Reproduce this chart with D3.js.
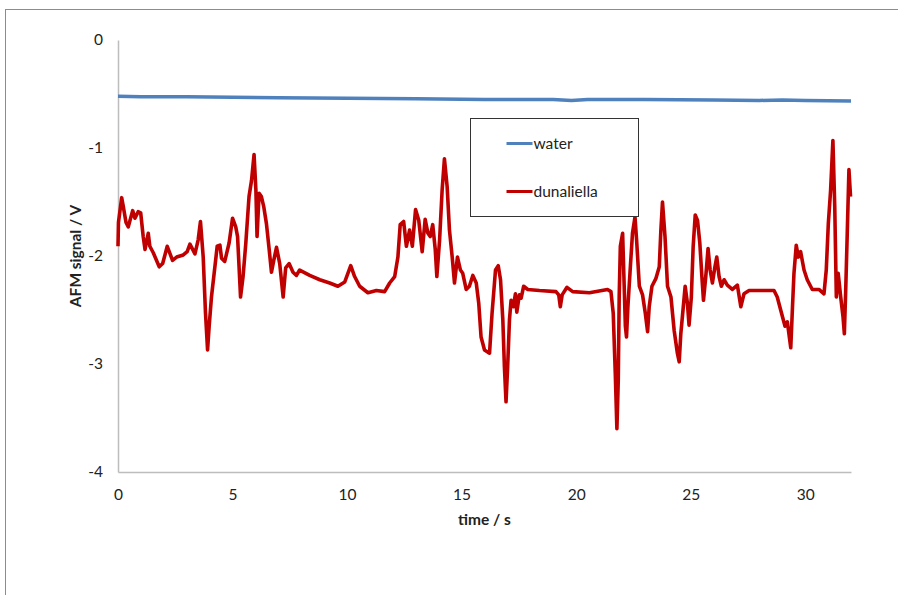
<!DOCTYPE html>
<html>
<head>
<meta charset="utf-8">
<script src="https://cdn.jsdelivr.net/npm/d3@7"></script>
<style>
  body { margin: 0; background: #fff; }
  svg text { font-family: Lato, "Open Sans", sans-serif; fill: #222; }
  .axis path { stroke: #bdbdbd; stroke-width: 1.5; }
  .axis text { font-size: 15.5px; }
</style>
</head>
<body>
<div id="chart"></div>
<script>
// series names
const seriesNames = ['water', 'dunaliella'];

// axis ticks
const xTicks = [0, 5, 10, 15, 20, 25, 30];
const yTicks = [0, -1, -2, -3, -4];

// water: time (s) / signal (V)
const waterT = [0, 1, 3, 5, 7, 10, 13, 16, 19, 19.8, 20.5, 23, 26, 28, 29, 30, 32];
const waterV = [-0.52, -0.525, -0.525, -0.53, -0.535, -0.54, -0.545, -0.55, -0.55, -0.56, -0.55, -0.55, -0.555, -0.56, -0.555, -0.56, -0.565];

// dunaliella: time (s) / signal (V)
const dunaT = [0, 0.02, 0.16, 0.23, 0.35, 0.45, 0.64, 0.74, 0.88, 0.99, 1.10, 1.18, 1.32, 1.39, 1.54, 1.80, 1.95, 2.15, 2.38, 2.56,
  2.85, 3.02, 3.14, 3.36, 3.50, 3.60, 3.72, 3.82, 3.91, 3.98, 4.08, 4.23, 4.33, 4.45, 4.52, 4.66, 4.85, 5.00, 5.14, 5.22,
  5.35, 5.46, 5.58, 5.72, 5.83, 5.94, 6.02, 6.07, 6.16, 6.26, 6.36, 6.48, 6.60, 6.70, 6.80, 6.92, 7.06, 7.21, 7.32, 7.47,
  7.64, 7.79, 7.93, 8.37, 8.81, 9.24, 9.60, 9.90, 10.16, 10.33, 10.55, 10.91, 11.28, 11.64, 11.86, 12.08, 12.22, 12.32, 12.47, 12.59,
  12.73, 12.85, 12.99, 13.13, 13.28, 13.41, 13.53, 13.63, 13.74, 13.85, 13.92, 14.04, 14.15, 14.25, 14.37, 14.47, 14.59, 14.69, 14.82, 14.95,
  15.05, 15.20, 15.34, 15.49, 15.64, 15.75, 15.85, 16.00, 16.14, 16.22, 16.33, 16.48, 16.60, 16.70, 16.80, 16.87, 16.94, 17.01, 17.09, 17.16,
  17.26, 17.35, 17.41, 17.52, 17.60, 17.71, 17.89, 18.40, 19.12, 19.24, 19.31, 19.39, 19.60, 19.85, 20.58, 21.37, 21.52, 21.62, 21.71, 21.78,
  21.84, 21.88, 21.93, 22.03, 22.09, 22.15, 22.20, 22.26, 22.35, 22.46, 22.57, 22.64, 22.76, 22.90, 23.02, 23.12, 23.19, 23.31, 23.48, 23.63,
  23.70, 23.77, 23.88, 23.99, 24.14, 24.28, 24.42, 24.50, 24.57, 24.64, 24.76, 24.86, 24.93, 25.03, 25.11, 25.20, 25.30, 25.40, 25.49, 25.56,
  25.66, 25.76, 25.85, 25.95, 26.06, 26.14, 26.24, 26.34, 26.46, 26.60, 26.82, 27.04, 27.19, 27.33, 27.55, 28.64, 28.78, 28.93, 29.12, 29.22,
  29.37, 29.44, 29.51, 29.61, 29.70, 29.80, 29.95, 30.09, 30.31, 30.60, 30.82, 30.92, 31.01, 31.11, 31.21, 31.29, 31.36, 31.44, 31.55, 31.65,
  31.71, 31.77, 31.84, 31.91, 31.98];
const dunaV = [-1.91, -1.69, -1.46, -1.54, -1.69, -1.73, -1.58, -1.65, -1.59, -1.60, -1.82, -1.94, -1.79, -1.91, -1.97, -2.10, -2.07, -1.91, -2.04, -2.01,
  -1.99, -1.96, -1.89, -1.98, -1.85, -1.68, -2.01, -2.53, -2.87, -2.65, -2.38, -2.10, -1.91, -1.90, -2.02, -2.05, -1.88, -1.65, -1.73, -1.82,
  -2.38, -2.19, -1.88, -1.45, -1.30, -1.06, -1.39, -1.82, -1.42, -1.45, -1.54, -1.70, -1.94, -2.15, -2.04, -1.92, -2.07, -2.38, -2.11, -2.07,
  -2.15, -2.18, -2.13, -2.18, -2.22, -2.25, -2.28, -2.24, -2.09, -2.19, -2.28, -2.34, -2.32, -2.33, -2.25, -2.19, -2.01, -1.71, -1.68, -1.91,
  -1.76, -1.91, -1.57, -1.67, -1.96, -1.66, -1.79, -1.82, -1.71, -1.94, -2.19, -1.85, -1.39, -1.10, -1.36, -1.76, -2.01, -2.25, -2.01, -2.13,
  -2.16, -2.31, -2.28, -2.18, -2.25, -2.44, -2.75, -2.87, -2.89, -2.90, -2.53, -2.13, -2.09, -2.22, -2.59, -3.03, -3.35, -3.03, -2.59, -2.41,
  -2.47, -2.35, -2.52, -2.36, -2.39, -2.28, -2.31, -2.32, -2.33, -2.36, -2.47, -2.36, -2.29, -2.33, -2.34, -2.31, -2.33, -2.53, -3.09, -3.60,
  -3.15, -2.38, -1.91, -1.79, -2.22, -2.65, -2.75, -2.47, -2.16, -1.79, -1.64, -1.85, -2.28, -2.36, -2.53, -2.70, -2.47, -2.28, -2.21, -2.10,
  -1.76, -1.50, -1.82, -2.28, -2.38, -2.69, -2.90, -2.98, -2.72, -2.56, -2.28, -2.44, -2.64, -2.38, -1.91, -1.62, -1.67, -1.88, -2.19, -2.41,
  -2.19, -1.93, -2.13, -2.25, -2.10, -2.01, -2.19, -2.28, -2.22, -2.27, -2.31, -2.27, -2.47, -2.35, -2.32, -2.32, -2.38, -2.50, -2.65, -2.61,
  -2.85, -2.50, -2.16, -1.90, -2.01, -1.96, -2.13, -2.22, -2.31, -2.31, -2.35, -2.13, -1.70, -1.39, -0.93, -1.54, -2.38, -2.16, -2.38, -2.56,
  -2.72, -2.31, -1.76, -1.20, -1.45];

const colors = ['#4f81bd', '#c00000'];

const margin = {top: 40, right: 47, bottom: 123, left: 118},
      width = 898,
      height = 595,
      w = width - margin.left - margin.right,
      h = height - margin.top - margin.bottom;

const svg = d3.select('#chart')
  .append('svg')
  .attr('width', width)
  .attr('height', height);

// outer chart frame (runs off the picture on right and bottom)
svg.append('rect')
  .attr('x', 5.5).attr('y', 9.5)
  .attr('width', 1000).attr('height', 1000)
  .attr('fill', 'none')
  .attr('stroke', '#8c8c8c');

const g = svg.append('g')
  .attr('transform', `translate(${margin.left},${margin.top})`);

const xScale = d3.scaleLinear([0, 32], [0, w]);
const yScale = d3.scaleLinear([-4, 0], [h, 0]);

// axes
const xAxis = d3.axisBottom(xScale).tickValues(xTicks).tickSize(0).tickPadding(17);
g.append('g')
  .attr('class', 'x axis')
  .attr('transform', `translate(0,${h})`)
  .call(xAxis);

const yAxis = d3.axisLeft(yScale).tickValues(yTicks).tickSize(0).tickPadding(15)
  .tickFormat(d => String(d));
g.append('g')
  .attr('class', 'y axis')
  .call(yAxis);

// axis titles
g.append('text')
  .attr('x', w / 2)
  .attr('y', h + 53)
  .attr('text-anchor', 'middle')
  .style('font-size', '15.5px')
  .style('font-weight', 'bold')
  .text('time / s');

g.append('text')
  .attr('transform', `translate(${-42},${h / 2}) rotate(-90)`)
  .attr('text-anchor', 'middle')
  .attr('dy', '0.35em')
  .style('font-size', '15.5px')
  .style('font-weight', 'bold')
  .text('AFM signal / V');

// lines
const line = d3.line()
  .x(d => xScale(d[0]))
  .y(d => yScale(d[1]));

const series = [
  d3.zip(waterT, waterV),
  d3.zip(dunaT, dunaV)
];

g.selectAll('.series')
  .data(series)
  .enter()
  .append('path')
  .attr('class', 'series')
  .attr('d', line)
  .attr('fill', 'none')
  .attr('stroke', (d, i) => colors[i])
  .attr('stroke-width', (d, i) => i === 0 ? 3.5 : 3.6)
  .attr('stroke-linejoin', 'round');

// legend
const legend = svg.append('g')
  .attr('transform', 'translate(470.5,118.5)');

legend.append('rect')
  .attr('width', 168).attr('height', 98)
  .attr('fill', '#fff')
  .attr('stroke', '#333');

const item = legend.selectAll('.item')
  .data(seriesNames)
  .enter()
  .append('g')
  .attr('class', 'item')
  .attr('transform', (d, i) => `translate(36,${25 + i * 48})`);

item.append('line')
  .attr('x1', 0).attr('x2', 26)
  .attr('stroke', (d, i) => colors[i])
  .attr('stroke-width', 3);

item.append('text')
  .attr('x', 27)
  .attr('dy', '0.35em')
  .style('font-size', '15.5px')
  .text(d => d);
</script>
</body>
</html>
